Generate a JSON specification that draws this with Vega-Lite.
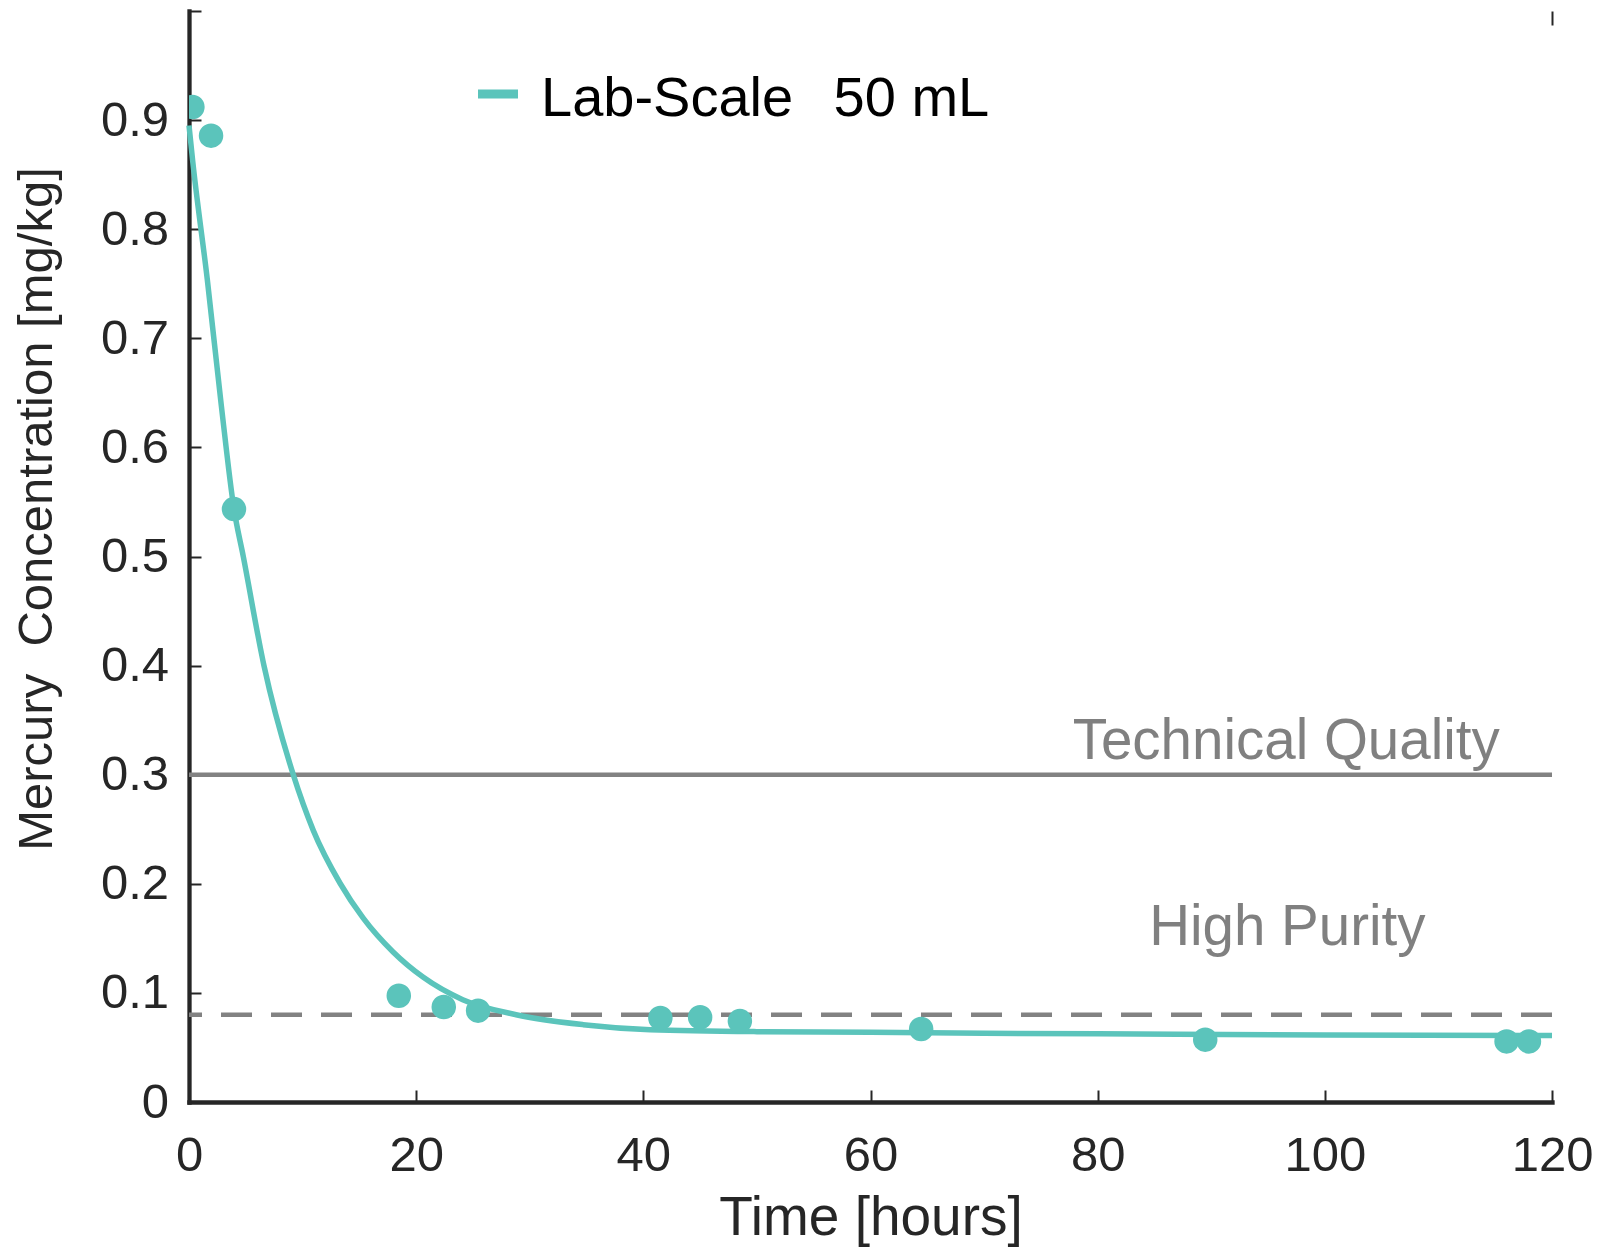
{
  "$schema": "https://vega.github.io/schema/vega-lite/v6.json",
  "width": 1363,
  "height": 1091,
  "autosize": {"type": "none"},
  "padding": {"left": 189, "top": 11, "right": 49, "bottom": 146},
  "background": "white",
  "config": {
    "view": {"stroke": null},
    "font": "Liberation Sans",
    "axis": {
      "grid": false,
      "domainColor": "#262626",
      "domainWidth": 4.3,
      "domainCap": "square",
      "tickColor": "#262626",
      "tickWidth": 2,
      "tickSize": -12,
      "labelFont": "Liberation Sans",
      "labelFontSize": 49,
      "labelColor": "#262626",
      "labelFlush": false,
      "labelOverlap": false,
      "titleFont": "Liberation Sans",
      "titleFontWeight": "normal",
      "titleColor": "#262626",
      "zindex": 1
    }
  },
  "datasets": {
    "fit": [
      {"t": 0, "c": 0.895, "series": "Lab-Scale\u00a0\u2006 50 mL"},
      {"t": 0.33, "c": 0.862, "series": "Lab-Scale\u00a0\u2006 50 mL"},
      {"t": 1.61, "c": 0.754, "series": "Lab-Scale\u00a0\u2006 50 mL"},
      {"t": 2.85, "c": 0.638, "series": "Lab-Scale\u00a0\u2006 50 mL"},
      {"t": 3.96, "c": 0.5435, "series": "Lab-Scale\u00a0\u2006 50 mL"},
      {"t": 4.78, "c": 0.5, "series": "Lab-Scale\u00a0\u2006 50 mL"},
      {"t": 6.6, "c": 0.4, "series": "Lab-Scale\u00a0\u2006 50 mL"},
      {"t": 9.18, "c": 0.3, "series": "Lab-Scale\u00a0\u2006 50 mL"},
      {"t": 10.94, "c": 0.249, "series": "Lab-Scale\u00a0\u2006 50 mL"},
      {"t": 13.3, "c": 0.2005, "series": "Lab-Scale\u00a0\u2006 50 mL"},
      {"t": 15.34, "c": 0.1685, "series": "Lab-Scale\u00a0\u2006 50 mL"},
      {"t": 17.97, "c": 0.1375, "series": "Lab-Scale\u00a0\u2006 50 mL"},
      {"t": 20.6, "c": 0.1145, "series": "Lab-Scale\u00a0\u2006 50 mL"},
      {"t": 24.1, "c": 0.0938, "series": "Lab-Scale\u00a0\u2006 50 mL"},
      {"t": 28.8, "c": 0.08, "series": "Lab-Scale\u00a0\u2006 50 mL"},
      {"t": 34.7, "c": 0.0709, "series": "Lab-Scale\u00a0\u2006 50 mL"},
      {"t": 40.6, "c": 0.0663, "series": "Lab-Scale\u00a0\u2006 50 mL"},
      {"t": 50, "c": 0.0645, "series": "Lab-Scale\u00a0\u2006 50 mL"},
      {"t": 60, "c": 0.064, "series": "Lab-Scale\u00a0\u2006 50 mL"},
      {"t": 70, "c": 0.063, "series": "Lab-Scale\u00a0\u2006 50 mL"},
      {"t": 80, "c": 0.0625, "series": "Lab-Scale\u00a0\u2006 50 mL"},
      {"t": 100, "c": 0.0615, "series": "Lab-Scale\u00a0\u2006 50 mL"},
      {"t": 120, "c": 0.061, "series": "Lab-Scale\u00a0\u2006 50 mL"}
    ],
    "measured": [
      {"t": 0.3, "c": 0.912},
      {"t": 1.94, "c": 0.8857},
      {"t": 3.96, "c": 0.5435},
      {"t": 18.47, "c": 0.0974},
      {"t": 22.43, "c": 0.0871},
      {"t": 25.45, "c": 0.0837},
      {"t": 41.5, "c": 0.077},
      {"t": 45.0, "c": 0.0777},
      {"t": 48.5, "c": 0.0742},
      {"t": 64.46, "c": 0.0669},
      {"t": 89.47, "c": 0.0571},
      {"t": 116.0, "c": 0.0555},
      {"t": 117.97, "c": 0.0555}
    ],
    "limits": [
      {"limit": "Technical Quality", "c": 0.3},
      {"limit": "High Purity", "c": 0.08}
    ],
    "labels": [
      {"text": "Technical Quality", "t": 96.6, "c": 0.3144},
      {"text": "High Purity", "t": 96.7, "c": 0.1435}
    ]
  },
  "resolve": {"axis": {"x": "independent"}},
  "layer": [
    {
      "data": {"name": "limits"},
      "transform": [{"filter": "datum.limit == 'Technical Quality'"}],
      "mark": {"type": "rule", "color": "#828282", "strokeWidth": 4.5},
      "encoding": {
        "y": {"field": "c", "type": "quantitative", "scale": {"domain": [0, 1], "nice": false, "zero": true}, "title": "Mercury\u00a0 Concentration [mg/kg]"}
      }
    },
    {
      "data": {"name": "limits"},
      "transform": [{"filter": "datum.limit == 'High Purity'"}],
      "mark": {"type": "rule", "color": "#828282", "strokeWidth": 4.5, "strokeDash": [31, 19]},
      "encoding": {
        "y": {"field": "c", "type": "quantitative", "title": "Mercury\u00a0 Concentration [mg/kg]"}
      }
    },
    {
      "data": {"name": "fit"},
      "mark": {"type": "line", "strokeWidth": 5.5, "interpolate": "monotone"},
      "encoding": {
        "x": {
          "field": "t", "type": "quantitative",
          "scale": {"domain": [0, 120], "nice": false},
          "title": "Time [hours]",
          "axis": {
            "orient": "bottom",
            "values": [0, 20, 40, 60, 80, 100, 120],
            "labelBaseline": "alphabetic",
            "labelPadding": 80,
            "titleFontSize": 55,
            "titleBaseline": "alphabetic",
            "titleY": 132.5
          }
        },
        "y": {
          "field": "c", "type": "quantitative",
          "title": "Mercury\u00a0 Concentration [mg/kg]",
          "axis": {
            "values": [0, 0.1, 0.2, 0.3, 0.4, 0.5, 0.6, 0.7, 0.8, 0.9, 1],
            "format": "~g",
            "labelExpr": "datum.value >= 1 ? '' : datum.label",
            "labelPadding": 32.5,
            "titleFontSize": 49,
            "titleAngle": -90,
            "titleBaseline": "alphabetic",
            "titleAlign": "center",
            "titleX": -138,
            "titleY": 497.5
          }
        },
        "color": {
          "field": "series", "type": "nominal",
          "scale": {"range": ["#5bc4bb"]},
          "legend": {
            "title": null,
            "orient": "none",
            "legendX": 281,
            "legendY": 55,
            "padding": 0,
            "symbolType": "stroke",
            "symbolSize": 1600,
            "symbolStrokeWidth": 9,
            "labelFont": "Liberation Sans",
            "labelFontSize": 56,
            "labelColor": "#000000",
            "labelOffset": 15,
            "labelLimit": 800,
            "encode": {"labels": {"update": {"dy": {"value": 5}}}}
          }
        }
      }
    },
    {
      "data": {"name": "measured"},
      "mark": {"type": "circle", "size": 600, "color": "#5bc4bb", "opacity": 1, "clip": true},
      "encoding": {
        "x": {"field": "t", "type": "quantitative", "axis": null},
        "y": {"field": "c", "type": "quantitative", "title": "Mercury\u00a0 Concentration [mg/kg]"}
      }
    },
    {
      "data": {"name": "labels"},
      "mark": {"type": "text", "align": "center", "baseline": "alphabetic", "fontSize": 56.5, "color": "#808080", "font": "Liberation Sans"},
      "encoding": {
        "x": {
          "field": "t", "type": "quantitative",
          "axis": {
            "orient": "top",
            "values": [120],
            "labels": false,
            "domain": false,
            "tickSize": -14,
            "title": null
          }
        },
        "y": {"field": "c", "type": "quantitative", "title": "Mercury\u00a0 Concentration [mg/kg]"},
        "text": {"field": "text"}
      }
    }
  ]
}
